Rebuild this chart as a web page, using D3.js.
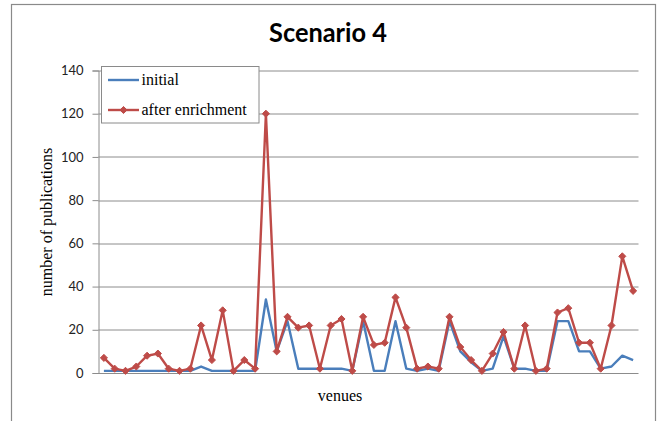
<!DOCTYPE html>
<html>
<head>
<meta charset="utf-8">
<script src="https://cdn.jsdelivr.net/npm/d3@7"></script>
<style>
  body { margin: 0; background: #fff; }
  svg { display: block; }
</style>
</head>
<body>
<div id="chart"></div>
<script>
const venues = d3.range(1, 51);
const initial = [
  1, 1, 1, 1, 1, 1, 1, 1, 1, 3, 1, 1, 1, 1, 1, 34, 10,
  24, 2, 2, 2, 2, 2, 1, 24, 1, 1, 24, 2, 1, 2, 1, 24,
  10, 5, 1, 2, 17, 2, 2, 1, 1, 24, 24, 10, 10, 2, 3, 8, 6
];
const afterEnrichment = [
  7, 2, 1, 3, 8, 9, 2, 1, 2, 22, 6, 29, 1, 6, 2, 120, 10,
  26, 21, 22, 2, 22, 25, 1, 26, 13, 14, 35, 21, 2, 3, 2, 26,
  12, 6, 1, 9, 19, 2, 22, 1, 2, 28, 30, 14, 14, 2, 22, 54, 38
];
const yTicks = [0, 20, 40, 60, 80, 100, 120, 140];
const seriesNames = ['initial', 'after enrichment'];

const W = 657, H = 421;
const m = { t: 70.5, r: 18.5, b: 48, l: 98.5 };
const blue = '#4a7ebb', red = '#be4b48', grid = '#8c8c8c';
const serif = '"Liberation Serif", "Times New Roman", serif';
const sans = 'Lato, "Liberation Sans", sans-serif';

const svg = d3.select('#chart').append('svg').attr('width', W).attr('height', H);

// chart frame
svg.append('rect')
  .attr('x', 11.5).attr('y', 4.5).attr('width', 644).attr('height', 430)
  .attr('fill', '#fff').attr('stroke', '#8a8a8a').attr('stroke-width', 1.2);

svg.append('text')
  .attr('x', 328).attr('y', 42)
  .attr('text-anchor', 'middle')
  .attr('font-family', sans).attr('font-weight', 700).attr('font-size', 26)
  .attr('textLength', 118).attr('lengthAdjust', 'spacingAndGlyphs')
  .attr('fill', '#000')
  .text('Scenario 4');

const innerW = W - m.l - m.r;
const innerH = 373 - m.t;
const g = svg.append('g').attr('transform', `translate(${m.l},${m.t})`);

const x = d3.scaleBand().domain(venues).range([0, innerW]);
const y = d3.scaleLinear().domain([0, 140]).range([innerH, 0]);
const cx = d => x(d) + x.bandwidth() / 2;

// gridlines
g.append('g')
  .selectAll('line')
  .data(yTicks.filter(t => t > 0))
  .enter()
  .append('line')
  .attr('x1', 0).attr('x2', innerW)
  .attr('y1', d => Math.round(y(d)) + 0.5).attr('y2', d => Math.round(y(d)) + 0.5)
  .attr('stroke', grid).attr('stroke-width', 1);

// y axis
const ya = g.append('g').call(d3.axisLeft(y).tickValues(yTicks).tickSize(6).tickPadding(9));
ya.select('.domain').attr('stroke', grid);
ya.selectAll('.tick line').attr('stroke', grid);
ya.selectAll('.tick text')
  .attr('font-family', sans).attr('font-size', 13).attr('fill', '#222');

// x axis line
g.append('line')
  .attr('x1', 0).attr('x2', innerW)
  .attr('y1', innerH + 0.5).attr('y2', innerH + 0.5)
  .attr('stroke', grid).attr('stroke-width', 1.2);

const line = d3.line().x((d, i) => cx(venues[i])).y(d => y(d));

g.append('path')
  .datum(initial)
  .attr('d', line)
  .attr('fill', 'none').attr('stroke', blue).attr('stroke-width', 2.4)
  .attr('stroke-linejoin', 'round');

g.append('path')
  .datum(afterEnrichment)
  .attr('d', line)
  .attr('fill', 'none').attr('stroke', red).attr('stroke-width', 2.4)
  .attr('stroke-linejoin', 'round');

const diamond = d3.symbol().type(d3.symbolDiamond2).size(32);
g.append('g')
  .selectAll('path')
  .data(afterEnrichment)
  .enter()
  .append('path')
  .attr('d', diamond)
  .attr('transform', (d, i) => `translate(${cx(venues[i])},${y(d)})`)
  .attr('fill', red).attr('stroke', red).attr('stroke-width', 1);

// axis titles
svg.append('text')
  .attr('x', 340).attr('y', 401)
  .attr('text-anchor', 'middle')
  .attr('font-family', serif).attr('font-size', 16).attr('fill', '#000')
  .text('venues');

svg.append('text')
  .attr('transform', 'translate(52,222) rotate(-90)')
  .attr('text-anchor', 'middle')
  .attr('font-family', serif).attr('font-size', 16).attr('fill', '#000')
  .text('number of publications');

// legend
const lg = svg.append('g').attr('transform', 'translate(101.5,66.5)');
lg.append('rect')
  .attr('width', 157.5).attr('height', 56.5)
  .attr('fill', '#fff').attr('stroke', '#8a8a8a').attr('stroke-width', 1);
const items = lg.selectAll('g.item')
  .data(seriesNames)
  .enter()
  .append('g')
  .attr('transform', (d, i) => `translate(0,${13.5 + i * 30})`);
items.append('line')
  .attr('x1', 6.5).attr('x2', 37.5).attr('y1', 0).attr('y2', 0)
  .attr('stroke', (d, i) => i ? red : blue).attr('stroke-width', 2.4);
items.filter((d, i) => i === 1)
  .append('path')
  .attr('d', diamond)
  .attr('transform', 'translate(22,0)')
  .attr('fill', red).attr('stroke', red);
items.append('text')
  .attr('x', 40).attr('y', 5)
  .attr('font-family', serif).attr('font-size', 16).attr('fill', '#000')
  .text(d => d);
</script>
</body>
</html>
